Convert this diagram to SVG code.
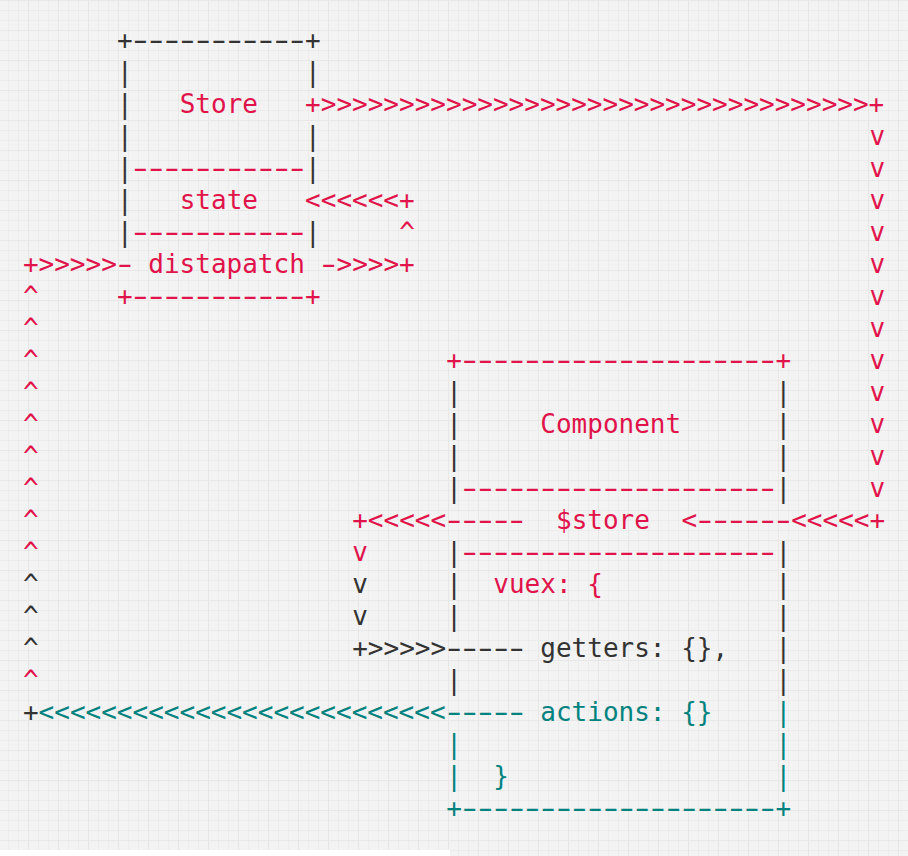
<svg xmlns="http://www.w3.org/2000/svg" width="908" height="856" viewBox="0 0 908 856">
<defs>
<pattern id="grid" patternUnits="userSpaceOnUse" x="28" y="0" width="30" height="30">
<rect width="30" height="30" fill="#f3f3f3"/>
<rect x="10" y="0" width="1" height="30" fill="#ececec"/>
<rect x="20" y="0" width="1" height="30" fill="#ececec"/>
<rect x="0" y="10" width="30" height="1" fill="#ececec"/>
<rect x="0" y="20" width="30" height="1" fill="#ececec"/>
<rect x="0" y="0" width="1" height="30" fill="#e7e7e7"/>
<rect x="0" y="0" width="30" height="1" fill="#e7e7e7"/>
</pattern>
<style>
text{font-family:"DejaVu Sans Mono","Liberation Mono",monospace;font-size:26px}
.r{fill:#e0134a}
.d{fill:#333333}
.g{fill:#00827e}
.dash{letter-spacing:-6.15px}
</style>
</defs>
<rect width="908" height="856" fill="#ffffff"/>
<rect width="908" height="850" fill="url(#grid)"/>
<rect x="450" y="849" width="458" height="7" fill="url(#grid)"/>

<g id="store">
<text class="d" x="117.0" y="49">+</text><text class="d dash" transform="scale(1.65,1)" x="77.32" y="49">-----------</text><text class="d" x="305.1" y="49">+</text>
<text class="d" x="117.0" y="81">|</text><text class="d" x="305.1" y="81">|</text>
<text class="d" x="117.0" y="113">|</text><text class="r" x="179.7" y="113">Store</text>
<text class="d" x="117.0" y="145">|</text><text class="d" x="305.1" y="145">|</text>
<text class="d" x="117.0" y="177">|</text><text class="r dash" transform="scale(1.65,1)" x="77.32" y="177">-----------</text><text class="d" x="305.1" y="177">|</text>
<text class="d" x="117.0" y="209">|</text><text class="r" x="179.7" y="209">state</text>
<text class="d" x="117.0" y="241">|</text><text class="r dash" transform="scale(1.65,1)" x="77.32" y="241">-----------</text><text class="d" x="305.1" y="241">|</text>
<text class="r" x="148.3" y="273">distapatch</text>
<text class="r" x="117.0" y="305">+</text><text class="r dash" transform="scale(1.65,1)" x="77.32" y="305">-----------</text><text class="r" x="305.1" y="305">+</text>
</g>

<g id="component">
<text class="r" x="446.3" y="369">+</text><text class="r dash" transform="scale(1.65,1)" x="276.88" y="369">--------------------</text><text class="r" x="775.5" y="369">+</text>
<text class="d" x="446.3" y="401">|</text><text class="d" x="775.5" y="401">|</text>
<text class="d" x="446.3" y="433">|</text><text class="r" x="540.3" y="433">Component</text><text class="d" x="775.5" y="433">|</text>
<text class="d" x="446.3" y="465">|</text><text class="d" x="775.5" y="465">|</text>
<text class="d" x="446.3" y="497">|</text><text class="r dash" transform="scale(1.65,1)" x="276.88" y="497">--------------------</text><text class="d" x="775.5" y="497">|</text>
<text class="r" x="556.0" y="529">$store</text>
<text class="d" x="446.3" y="561">|</text><text class="r dash" transform="scale(1.65,1)" x="276.88" y="561">--------------------</text><text class="d" x="775.5" y="561">|</text>
<text class="d" x="446.3" y="593">|</text><text class="r" x="493.3" y="593">vuex: {</text><text class="d" x="775.5" y="593">|</text>
<text class="d" x="446.3" y="625">|</text><text class="d" x="775.5" y="625">|</text>
<text class="d" x="540.3" y="657">getters: {},</text><text class="d" x="775.5" y="657">|</text>
<text class="d" x="446.3" y="689">|</text><text class="d" x="775.5" y="689">|</text>
<text class="g" x="540.3" y="721">actions: {}</text><text class="g" x="775.5" y="721">|</text>
<text class="g" x="446.3" y="753">|</text><text class="g" x="775.5" y="753">|</text>
<text class="g" x="446.3" y="785">|</text><text class="g" x="493.3" y="785">}</text><text class="g" x="775.5" y="785">|</text>
<text class="g" x="446.3" y="817">+</text><text class="g dash" transform="scale(1.65,1)" x="276.88" y="817">--------------------</text><text class="g" x="775.5" y="817">+</text>
</g>

<g id="connectors">
<text class="r" x="305.1" y="113">+&gt;&gt;&gt;&gt;&gt;&gt;&gt;&gt;&gt;&gt;&gt;&gt;&gt;&gt;&gt;&gt;&gt;&gt;&gt;&gt;&gt;&gt;&gt;&gt;&gt;&gt;&gt;&gt;&gt;&gt;&gt;&gt;&gt;&gt;&gt;+</text>
<text class="r" x="869.6" y="145">v</text>
<text class="r" x="869.6" y="177">v</text>
<text class="r" x="869.6" y="209">v</text>
<text class="r" x="869.6" y="241">v</text>
<text class="r" x="869.6" y="273">v</text>
<text class="r" x="869.6" y="305">v</text>
<text class="r" x="869.6" y="337">v</text>
<text class="r" x="869.6" y="369">v</text>
<text class="r" x="869.6" y="401">v</text>
<text class="r" x="869.6" y="433">v</text>
<text class="r" x="869.6" y="465">v</text>
<text class="r" x="869.6" y="497">v</text>
<text class="r" x="305.1" y="209">&lt;&lt;&lt;&lt;&lt;&lt;+</text>
<text class="r" x="399.2" y="241">^</text>
<text class="r" x="22.9" y="273">+&gt;&gt;&gt;&gt;&gt;</text><text class="r dash" transform="scale(1.65,1)" x="67.82" y="273">-</text>
<text class="r dash" transform="scale(1.65,1)" x="191.36" y="273">-</text><text class="r" x="336.5" y="273">&gt;&gt;&gt;&gt;+</text>
<text class="r" x="22.9" y="305">^</text>
<text class="r" x="22.9" y="337">^</text>
<text class="r" x="22.9" y="369">^</text>
<text class="r" x="22.9" y="401">^</text>
<text class="r" x="22.9" y="433">^</text>
<text class="r" x="22.9" y="465">^</text>
<text class="r" x="22.9" y="497">^</text>
<text class="r" x="22.9" y="529">^</text>
<text class="r" x="22.9" y="561">^</text>
<text class="d" x="22.9" y="593">^</text>
<text class="d" x="22.9" y="625">^</text>
<text class="d" x="22.9" y="657">^</text>
<text class="r" x="22.9" y="689">^</text>
<text class="r" x="352.2" y="529">+&lt;&lt;&lt;&lt;&lt;</text><text class="r dash" transform="scale(1.65,1)" x="267.38" y="529">-----</text>
<text class="r" x="681.5" y="529">&lt;</text><text class="r dash" transform="scale(1.65,1)" x="419.43" y="529">------</text><text class="r" x="791.2" y="529">&lt;&lt;&lt;&lt;&lt;+</text>
<text class="r" x="352.2" y="561">v</text>
<text class="d" x="352.2" y="593">v</text>
<text class="d" x="352.2" y="625">v</text>
<text class="d" x="352.2" y="657">+&gt;&gt;&gt;&gt;&gt;</text><text class="d dash" transform="scale(1.65,1)" x="267.38" y="657">-----</text>
<text class="d" x="22.9" y="721">+</text>
<text class="g" x="38.6" y="721">&lt;&lt;&lt;&lt;&lt;&lt;&lt;&lt;&lt;&lt;&lt;&lt;&lt;&lt;&lt;&lt;&lt;&lt;&lt;&lt;&lt;&lt;&lt;&lt;&lt;&lt;</text><text class="g dash" transform="scale(1.65,1)" x="267.38" y="721">-----</text>
</g>
</svg>
